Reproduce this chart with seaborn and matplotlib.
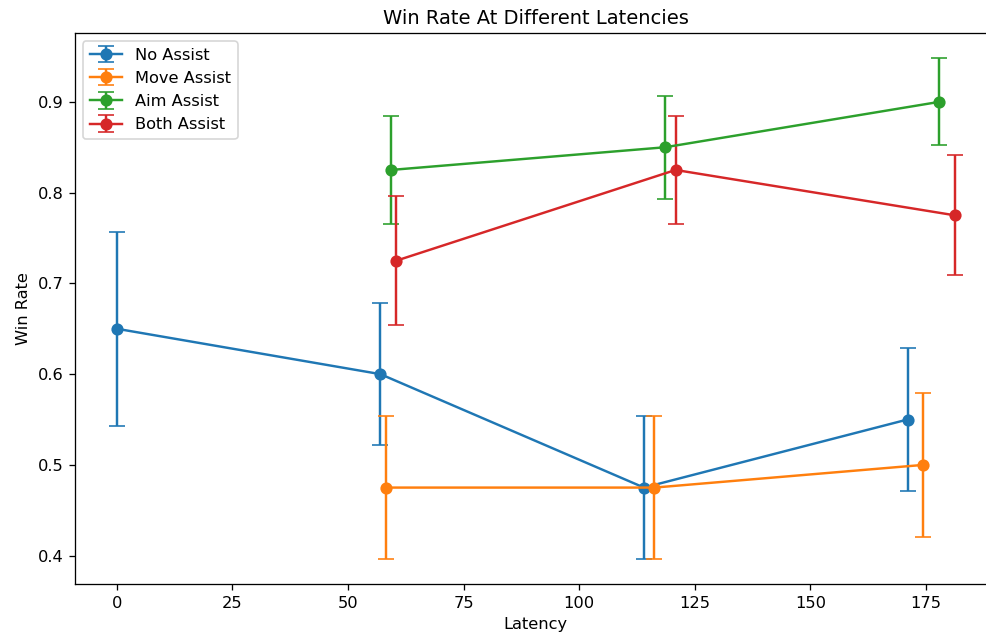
import numpy as np
import matplotlib
matplotlib.use("Agg")
import matplotlib.pyplot as plt
import seaborn as sns

# latencies tested (ms)
latency_all = [0, 57, 114, 171]
latency_assist = [57, 114, 171]

# win rate per condition
no_assist = [0.65, 0.60, 0.475, 0.55]
move_assist = [0.475, 0.475, 0.50]
aim_assist = [0.825, 0.85, 0.90]
both_assist = [0.725, 0.825, 0.775]

# standard errors
no_assist_err = [0.107, 0.078, 0.079, 0.079]
move_assist_err = [0.079, 0.079, 0.079]
aim_assist_err = [0.060, 0.057, 0.048]
both_assist_err = [0.071, 0.060, 0.066]

labels = ["No Assist", "Move Assist", "Aim Assist", "Both Assist"]
colors = sns.color_palette("tab10", 4)

series = [
    (latency_all, no_assist, no_assist_err),
    (latency_assist, move_assist, move_assist_err),
    (latency_assist, aim_assist, aim_assist_err),
    (latency_assist, both_assist, both_assist_err),
]

dpi = 117
fig = plt.figure(figsize=(986 / dpi, 640 / dpi), dpi=dpi)
ax = fig.add_axes([0.076, 0.087, 0.935, 0.861])

# small horizontal dodge so the bars do not overlap
for i, (x, y, e) in enumerate(series):
    xs = np.array(x) * (1 + 0.02 * i)
    ax.errorbar(xs, y, yerr=e, fmt="o-", color=colors[i], capsize=5,
                markersize=6.5, label=labels[i])

ax.set_title("Win Rate At Different Latencies")
ax.set_xlabel("Latency")
ax.set_ylabel("Win Rate")
ax.legend(loc="upper left")

fig.savefig("out.png", dpi=dpi)
